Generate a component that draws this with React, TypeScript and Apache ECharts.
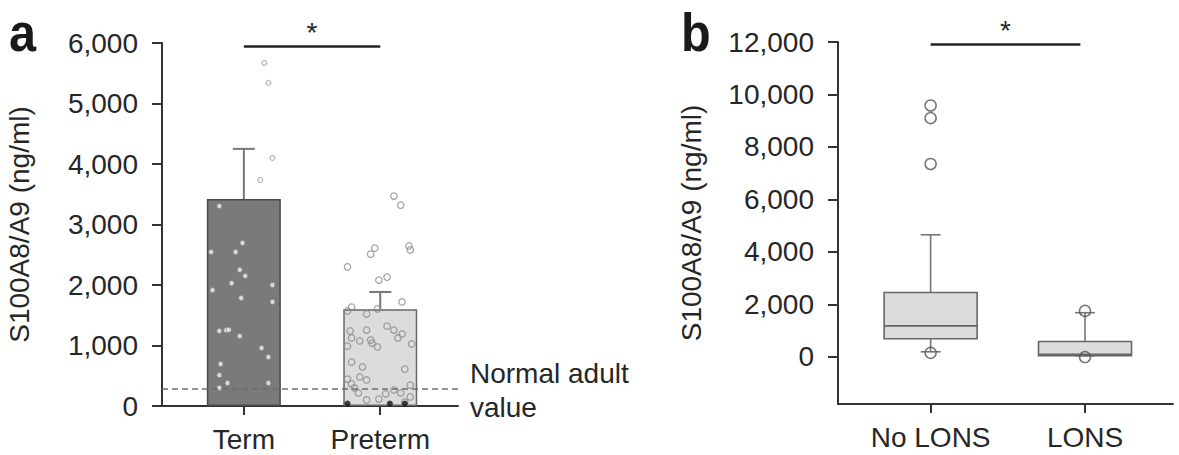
import React, { useEffect, useRef } from "react";
import * as echarts from "echarts";

// ---------- Panel a data ----------
const A_CATS = ["Term", "Preterm"];
const A_MEANS = [3420, 1600];
const A_UPPER = [4250, 1885];
const NORMAL_ADULT = 280;
const A_SIG = 5940;
// [x position (category index + jitter), value]
const TERM_POINTS: [number, number][] = [
  [0.15, 5670], [0.18, 5340], [0.21, 4100], [0.12, 3735], [-0.18, 3305],
  [-0.01, 2695], [-0.24, 2545], [-0.06, 2545], [-0.03, 2250], [0.01, 2150],
  [-0.09, 2030], [0.21, 2000], [-0.23, 1915], [-0.02, 1785], [0.21, 1720],
  [-0.18, 1240], [-0.13, 1255], [-0.11, 1260], [-0.03, 1155], [0.13, 960],
  [0.18, 810], [-0.17, 695], [-0.18, 510], [-0.12, 380], [0.18, 380],
  [-0.18, 300],
];
const PRETERM_POINTS: [number, number][] = [
  [1.10, 3470], [1.15, 3320], [0.96, 2610], [0.93, 2510], [1.21, 2645],
  [1.22, 2580], [0.76, 2300], [1.05, 2130], [0.99, 2080], [1.16, 1720],
  [0.79, 1635], [0.76, 1570], [0.98, 1605], [0.90, 1520], [1.05, 1320],
  [1.10, 1255], [0.78, 1240], [0.90, 1255], [1.16, 1190], [1.13, 1125],
  [0.79, 1125], [0.85, 1075], [0.93, 1090], [0.94, 1040], [0.98, 975],
  [1.23, 1025], [0.76, 990], [0.79, 725], [0.87, 645], [1.18, 610],
  [0.85, 480], [0.90, 430], [0.76, 445], [1.22, 345], [0.79, 365],
  [0.81, 300], [1.10, 265], [0.84, 215], [1.04, 200], [1.15, 215],
  [1.22, 150], [0.90, 100], [0.99, 115], [1.18, 65],
];
const PRETERM_ZERO_POINTS: [number, number][] = [
  [0.76, 40], [1.07, 40], [1.18, 40],
];

// ---------- Panel b data ----------
const B_CATS = ["No LONS", "LONS"];
// [min, Q1, median, Q3, max]
const B_BOX: number[][] = [
  [190, 690, 1180, 2450, 4650],
  [40, 40, 90, 580, 1680],
];
const B_OUTLIERS: [number, number][] = [
  [0, 9580], [0, 9100], [0, 7350], [0, 150], [1, 1750], [1, -10],
];
const B_TICKS = [0, 2000, 4000, 6000, 8000, 10000, 12000];
const B_SIG = 11920;

const FONT = "Liberation Sans, Arial, Helvetica, sans-serif";
const TXT = "#262626";

const fmt = (v: number) =>
  String(Math.round(v)).replace(/\B(?=(\d{3})+(?!\d))/g, ",");

export default function App() {
  const ref = useRef<HTMLDivElement>(null);
  useEffect(() => {
    document.body.style.margin = "0";
    const chart = echarts.init(ref.current!, undefined, { renderer: "svg" });

    const axisLine = { show: true, onZero: false, lineStyle: { color: "#333", width: 2 } };
    const xAxisCommon = (cats: string[], gridIndex: number) => ({
      type: "value",
      gridIndex,
      min: -0.6,
      max: 1.57,
      axisLine,
      splitLine: { show: false },
      axisTick: { show: true, customValues: [0, 1], length: 9, lineStyle: { color: "#333", width: 2 } },
      axisLabel: {
        show: true,
        customValues: [0, 1],
        formatter: (v: number) => cats[Math.round(v)] ?? "",
        fontSize: 28,
        color: TXT,
        fontFamily: FONT,
        margin: 19,
      },
    });

    const sigLine = (y: number, x2: number) => ({
      silent: true,
      symbol: ["none", "none"],
      lineStyle: { color: "#222", width: 2.5, type: "solid" },
      label: {
        show: true,
        position: "middle",
        formatter: "*",
        fontSize: 28,
        color: TXT,
        fontFamily: FONT,
        distance: 0,
      },
      data: [[{ coord: [0, y] }, { coord: [x2, y] }]],
    });

    const option: any = {
      animation: false,
      textStyle: { fontFamily: FONT },
      grid: [
        { left: 162, top: 43, width: 296, height: 363 },
        { left: 838, top: 42, width: 335, height: 362 },
      ],
      xAxis: [xAxisCommon(A_CATS, 0), xAxisCommon(B_CATS, 1)],
      yAxis: [
        {
          type: "value",
          gridIndex: 0,
          min: 0,
          max: 6000,
          interval: 1000,
          axisLine,
          splitLine: { show: false },
          axisTick: { show: true, length: 10, lineStyle: { color: "#333", width: 2 } },
          axisLabel: { fontSize: 28, color: TXT, fontFamily: FONT, margin: 24, formatter: fmt },
          name: "S100A8/A9 (ng/ml)",
          nameLocation: "middle",
          nameRotate: 90,
          nameGap: 129,
          nameTextStyle: { fontSize: 28, color: TXT, fontFamily: FONT },
        },
        {
          type: "value",
          gridIndex: 1,
          min: -1800,
          max: 12000,
          axisLine,
          splitLine: { show: false },
          axisTick: { show: true, customValues: B_TICKS, length: 10, lineStyle: { color: "#333", width: 2 } },
          axisLabel: {
            customValues: B_TICKS,
            fontSize: 28,
            color: TXT,
            fontFamily: FONT,
            margin: 24,
            formatter: fmt,
          },
          name: "S100A8/A9 (ng/ml)",
          nameLocation: "middle",
          nameRotate: 90,
          nameGap: 133,
          nameTextStyle: { fontSize: 28, color: TXT, fontFamily: FONT },
        },
      ],
      series: [
        {
          type: "bar",
          xAxisIndex: 0,
          yAxisIndex: 0,
          barWidth: 74,
          data: A_MEANS.map((m, i) => ({
            value: [i, m],
            itemStyle:
              i === 0
                ? { color: "#7a7a7a", borderColor: "#4a4a4a", borderWidth: 1.5 }
                : { color: "#dcdcdc", borderColor: "#666", borderWidth: 1.5 },
          })),
          markLine: {
            silent: true,
            symbol: ["none", "none"],
            lineStyle: { color: "#6e6e6e", width: 1.6, type: [6, 4] },
            label: { show: false },
            data: [{ yAxis: NORMAL_ADULT }],
          },
          z: 2,
        },
        {
          type: "custom",
          xAxisIndex: 0,
          yAxisIndex: 0,
          encode: { x: 0, y: [1, 2] },
          data: A_MEANS.map((m, i) => [i, m, A_UPPER[i]]),
          renderItem: (params: any, api: any) => {
            const p0 = api.coord([api.value(0), api.value(1)]);
            const p1 = api.coord([api.value(0), api.value(2)]);
            const st = { stroke: "#777", lineWidth: 2 };
            return {
              type: "group",
              children: [
                { type: "line", shape: { x1: p0[0], y1: p0[1], x2: p1[0], y2: p1[1] }, style: st },
                { type: "line", shape: { x1: p1[0] - 11, y1: p1[1], x2: p1[0] + 11, y2: p1[1] }, style: st },
              ],
            };
          },
          z: 1,
        },
        {
          type: "scatter",
          xAxisIndex: 0,
          yAxisIndex: 0,
          symbol: "circle",
          symbolSize: 5,
          itemStyle: { color: "#f4f4f4", borderColor: "#8a8a8a", borderWidth: 1 },
          data: TERM_POINTS,
          markLine: sigLine(A_SIG, 1),
          z: 4,
        },
        {
          type: "scatter",
          xAxisIndex: 0,
          yAxisIndex: 0,
          symbol: "circle",
          symbolSize: 6.5,
          itemStyle: { color: "rgba(255,255,255,0)", borderColor: "#8a8a8a", borderWidth: 1.2 },
          data: PRETERM_POINTS,
          z: 4,
        },
        {
          type: "scatter",
          xAxisIndex: 0,
          yAxisIndex: 0,
          symbol: "circle",
          symbolSize: 6,
          itemStyle: { color: "#111" },
          data: PRETERM_ZERO_POINTS,
          z: 4,
        },
        {
          type: "custom",
          xAxisIndex: 1,
          yAxisIndex: 1,
          encode: { x: 0, y: [1, 2, 3, 4, 5] },
          data: B_BOX.map((s, i) => [i, ...s]),
          renderItem: (params: any, api: any) => {
            const x = api.value(0);
            const c = (v: number) => api.coord([x, v]);
            const pMin = c(api.value(1));
            const pQ1 = c(api.value(2));
            const pMed = c(api.value(3));
            const pQ3 = c(api.value(4));
            const pMax = c(api.value(5));
            const cx = pMin[0];
            const half = 46.5;
            const cap = 10;
            const wst = { stroke: "#777", lineWidth: 1.6 };
            const bst = { stroke: "#666", lineWidth: 1.6 };
            return {
              type: "group",
              children: [
                { type: "line", shape: { x1: cx, y1: pQ3[1], x2: cx, y2: pMax[1] }, style: wst },
                { type: "line", shape: { x1: cx - cap, y1: pMax[1], x2: cx + cap, y2: pMax[1] }, style: wst },
                { type: "line", shape: { x1: cx, y1: pQ1[1], x2: cx, y2: pMin[1] }, style: wst },
                { type: "line", shape: { x1: cx - cap, y1: pMin[1], x2: cx + cap, y2: pMin[1] }, style: wst },
                {
                  type: "rect",
                  shape: { x: cx - half, y: pQ3[1], width: half * 2, height: pQ1[1] - pQ3[1] },
                  style: { fill: "#dcdcdc", ...bst },
                },
                { type: "line", shape: { x1: cx - half, y1: pMed[1], x2: cx + half, y2: pMed[1] }, style: bst },
              ],
            };
          },
          markLine: sigLine(B_SIG, 0.97),
          z: 2,
        },
        {
          type: "scatter",
          xAxisIndex: 1,
          yAxisIndex: 1,
          symbol: "circle",
          symbolSize: 11,
          itemStyle: { color: "rgba(255,255,255,0)", borderColor: "#555", borderWidth: 1.5 },
          data: B_OUTLIERS,
          z: 4,
        },
      ],
      graphic: [
        {
          type: "text",
          x: 9,
          y: 32,
          scaleX: 0.9,
          style: { text: "a", fontSize: 54, fontWeight: "bold", fontFamily: FONT, fill: "#1a1a1a", verticalAlign: "middle", align: "left" },
        },
        {
          type: "text",
          x: 681,
          y: 32,
          scaleX: 0.9,
          style: { text: "b", fontSize: 54, fontWeight: "bold", fontFamily: FONT, fill: "#1a1a1a", verticalAlign: "middle", align: "left" },
        },
        {
          type: "text",
          x: 470,
          y: 373,
          style: { text: "Normal adult", fontSize: 28, fontFamily: FONT, fill: TXT, verticalAlign: "middle", align: "left" },
        },
        {
          type: "text",
          x: 470,
          y: 407,
          style: { text: "value", fontSize: 28, fontFamily: FONT, fill: TXT, verticalAlign: "middle", align: "left" },
        },
      ],
    };

    chart.setOption(option);
    return () => chart.dispose();
  }, []);

  return (
    <div
      ref={ref}
      style={{ position: "fixed", left: 0, top: 0, width: 1179, height: 455, background: "#fff" }}
    />
  );
}
